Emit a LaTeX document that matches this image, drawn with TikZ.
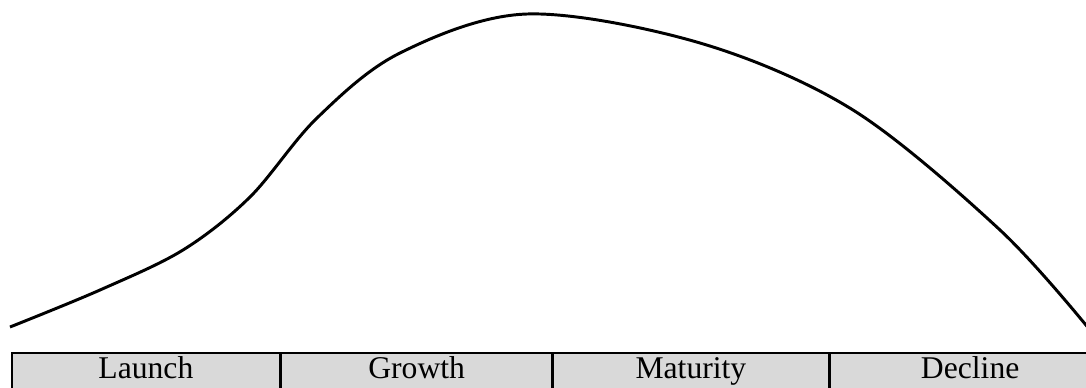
\documentclass[tikz,border=0pt]{standalone}
\usepackage{fontspec}
\setmainfont{Liberation Serif}
\usepackage{tikz}
\usetikzlibrary{calc,positioning}

\definecolor{stagegray}{RGB}{217,217,217}
\tikzset{
  stagecell/.style={draw=black,line width=1.2pt,fill=stagegray,rectangle,inner sep=0pt,
    minimum height=1.1cm,text height=0.85em,text depth=0.28em,
    font=\fontsize{22.5}{27}\selectfont},
  lifecurve/.style={line width=2.1pt,line join=round}
}

\begin{document}
\begin{tikzpicture}[x=0.025cm,y=-0.025cm]
    \clip (0,0) rectangle (1086,388);
    % sales curve over the product life
    \draw[lifecurve] plot[smooth,tension=0.55] coordinates {
      (10,327) (100,290) (183,250) (250,197) (317,118) (400,53)
      (527,14) (700,43) (853,110) (1000,230) (1090,330)};

    % stages along the bottom
    \node[stagecell,minimum width=6.7cm,anchor=north west] (launch) at (11,352) {Launch};
    \node[stagecell,minimum width=6.75cm,anchor=west] (growth) at (launch.east) {Growth};
    \node[stagecell,minimum width=6.875cm,anchor=west] (maturity) at (growth.east) {Maturity};
    \node[stagecell,minimum width=7cm,anchor=west] (decline) at (maturity.east) {Decline};
  \end{tikzpicture}
\end{document}
